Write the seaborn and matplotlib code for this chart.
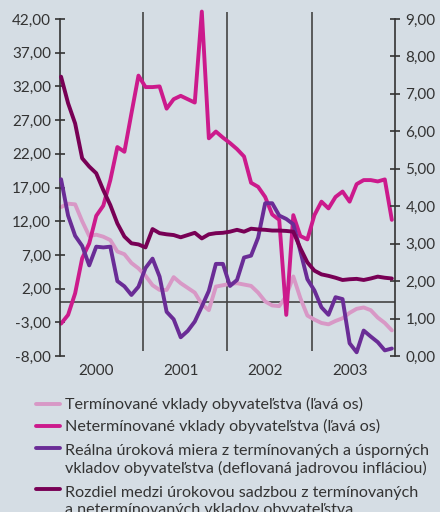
import numpy as np
import pandas as pd
import matplotlib
matplotlib.use('Agg')
import matplotlib.pyplot as plt
from matplotlib.lines import Line2D
import seaborn as sns

# mesačné údaje 2000 - 2003
months = list(range(48))
years = ['2000', '2001', '2002', '2003']

# ľavá os
termin = [14.1, 14.6, 14.5, 12.0, 9.8, 10.0, 9.7, 9.2, 7.5, 7.1, 5.8, 5.0,
          3.9, 2.5, 1.8, 1.8, 3.7, 2.8, 2.1, 1.4, -0.3, -1.2, 2.3, 2.5,
          2.7, 2.8, 2.6, 2.4, 1.4, 0.1, -0.5, -0.6, 0.9, 3.8, 0.6, -2.0,
          -2.6, -3.1, -3.3, -2.8, -2.4, -1.6, -1.0, -0.8, -1.2, -2.3, -3.1, -4.2]
netermin = [-3.2, -1.9, 1.3, 6.5, 8.7, 12.8, 14.3, 18.1, 23.0, 22.3, 28.0, 33.6,
            31.9, 31.9, 32.0, 28.7, 30.1, 30.6, 30.1, 29.6, 43.1, 24.3, 25.3, 24.4,
            23.6, 22.7, 21.6, 17.7, 17.1, 15.6, 13.0, 12.2, -1.9, 12.9, 9.8, 9.3,
            12.9, 14.9, 13.9, 15.6, 16.4, 14.9, 17.5, 18.1, 18.1, 17.9, 18.2, 12.2]

# pravá os
realna = [4.72, 3.75, 3.21, 2.94, 2.42, 2.92, 2.90, 2.92, 2.00, 1.86, 1.63, 1.85,
          2.35, 2.60, 2.12, 1.18, 0.98, 0.50, 0.67, 0.92, 1.32, 1.74, 2.46, 2.46,
          1.87, 2.03, 2.63, 2.68, 3.16, 4.08, 4.08, 3.75, 3.66, 3.52, 2.80, 2.05,
          1.75, 1.30, 1.10, 1.57, 1.52, 0.34, 0.10, 0.68, 0.52, 0.37, 0.15, 0.20]
rozdiel = [7.46, 6.75, 6.21, 5.28, 5.06, 4.88, 4.43, 4.03, 3.54, 3.19, 3.01, 2.98,
           2.90, 3.39, 3.28, 3.25, 3.23, 3.17, 3.23, 3.29, 3.14, 3.25, 3.28, 3.29,
           3.32, 3.37, 3.32, 3.40, 3.38, 3.37, 3.35, 3.35, 3.34, 3.32, 2.88, 2.50,
           2.28, 2.18, 2.14, 2.09, 2.03, 2.05, 2.06, 2.03, 2.07, 2.12, 2.09, 2.07]

left_ticks = [-8, -3, 2, 7, 12, 17, 22, 27, 32, 37, 42]
right_ticks = [0, 1, 2, 3, 4, 5, 6, 7, 8, 9]

labels = ['Termínované vklady obyvateľstva (ľavá os)',
          'Netermínované vklady obyvateľstva (ľavá os)',
          'Reálna úroková miera z termínovaných a úsporných\nvkladov obyvateľstva (deflovaná jadrovou infláciou)',
          'Rozdiel medzi úrokovou sadzbou z termínovaných\na netermínovaných vkladov obyvateľstva']

bg = '#d5dde4'
ink = '#333333'
colors = ['#d898c6', '#cc1a8c', '#6a2c96', '#780055']

sns.set_theme(style='ticks')
plt.rcParams['font.family'] = ['Lato', 'DejaVu Sans']

W, H = 440, 512
fig = plt.figure(figsize=(W / 100, H / 100), dpi=100, facecolor=bg)
ax = fig.add_axes([60 / W, 1 - 356 / H, 335 / W, 337 / H])
ax.set_facecolor(bg)
ax2 = ax.twinx()
ax2.patch.set_visible(False)

lw = 2.8
sns.lineplot(x=months, y=termin, ax=ax, color=colors[0], lw=lw, legend=False, clip_on=False)
sns.lineplot(x=months, y=netermin, ax=ax, color=colors[1], lw=lw, legend=False, clip_on=False)
sns.lineplot(x=months, y=realna, ax=ax2, color=colors[2], lw=lw, legend=False, clip_on=False)
sns.lineplot(x=months, y=rozdiel, ax=ax2, color=colors[3], lw=lw, legend=False, clip_on=False)

ax.set_xlim(-0.15, 47.45)
ax.set_ylim(-8, 42)
ax2.set_ylim(0, 9)

# oddeľovače rokov a nulová čiara
ax.vlines([11.6, 23.6, 35.6], -7.26, 43.04, color='#444444', lw=1.2, clip_on=False, zorder=1)
ax.axhline(0, color='#444444', lw=1.2, zorder=1)

ax.set_yticks(left_ticks)
ax.set_yticklabels([f'{v:.2f}'.replace('.', ',') for v in left_ticks])
ax2.set_yticks(right_ticks)
ax2.set_yticklabels([f'{v:.2f}'.replace('.', ',') for v in right_ticks])

ax.set_xticks([5, 17, 29, 41])
ax.set_xticklabels(years)
ax.tick_params(axis='x', length=0, pad=6, labelsize=11, labelcolor=ink)
ax2.tick_params(axis='x', length=0)

ax.tick_params(axis='y', direction='inout', length=7, width=1.2, color=ink,
               labelsize=11, labelcolor=ink, pad=3)
ax2.tick_params(axis='y', direction='inout', length=7, width=1.2, color=ink,
                labelsize=11, labelcolor=ink, pad=4)

for a in (ax, ax2):
    for s in a.spines.values():
        s.set_visible(False)
ax.spines['left'].set_visible(True)
ax.spines['left'].set_color(ink)
ax.spines['left'].set_linewidth(1.2)
ax2.spines['right'].set_visible(True)
ax2.spines['right'].set_color(ink)
ax2.spines['right'].set_linewidth(1.2)
ax.set_xlabel('')
ax.set_ylabel('')
ax2.set_ylabel('')

# legenda pod grafom, značka pri prvom riadku
row_y = [404, 426, 448, 489]
line_px = 20
for col, lab, yc in zip(colors, labels, row_y):
    yf = 1 - yc / H
    fig.add_artist(Line2D([36 / W, 60 / W], [yf, yf], color=col, lw=lw,
                          transform=fig.transFigure))
    n = lab.count('\n')
    fig.text(65 / W, 1 - (yc + 5 + n * line_px) / H, lab, fontsize=11.6, color=ink,
             va='baseline', ha='left', linespacing=1.25)

fig.savefig('out.png', dpi=100, facecolor=bg)
